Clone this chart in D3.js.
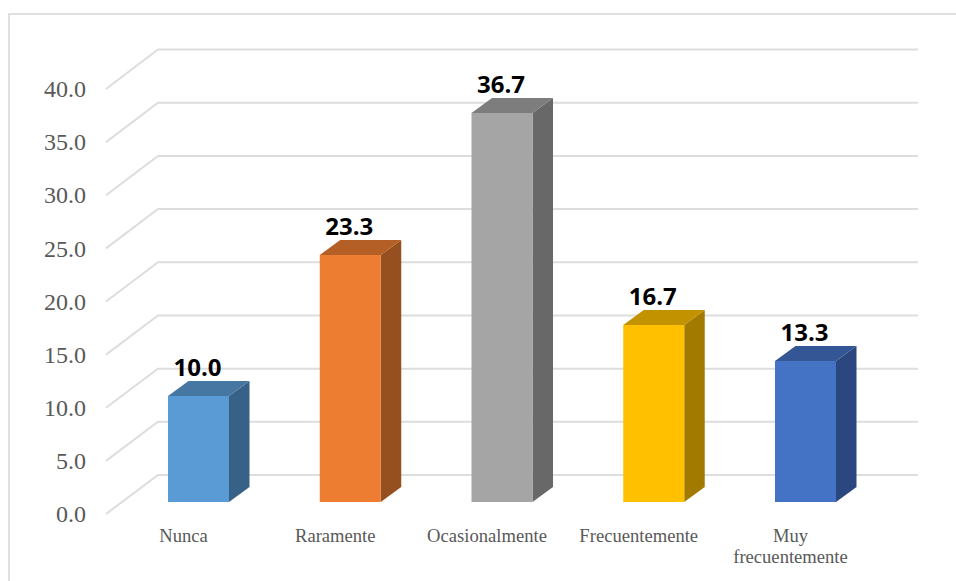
<!DOCTYPE html>
<html><head><meta charset="utf-8">
<style>html,body{margin:0;padding:0;background:#fff}svg{display:block}</style>
<script src="https://cdn.jsdelivr.net/npm/d3@7/dist/d3.min.js"></script></head>
<body><svg id="c" width="956" height="581"></svg>
<script>
const categories = ["Nunca","Raramente","Ocasionalmente","Frecuentemente","Muy frecuentemente"];
const values = [10.0,23.3,36.7,16.7,13.3];
const frontColors = ["#5B9BD5","#ED7D31","#A5A5A5","#FFC000","#4472C4"];
const topColors = ["#4676A2","#B45F25","#7D7D7D","#C29200","#345695"];
const sideColors = ["#376187","#964F1F","#686868","#A27A00","#2A4780"];
const yTicks = [0,5,10,15,20,25,30,35,40];

const svg = d3.select("#c");
svg.append("rect").attr("x",9).attr("y",14).attr("width",960).attr("height",600)
  .attr("fill","#fff").attr("stroke","#dcdcdc").attr("stroke-width",1.8);

const yFront = d3.scaleLinear().domain([0,40]).range([514,89]);
const yBack = d3.scaleLinear().domain([0,40]).range([475,49.5]);
const yBar = d3.scaleLinear().domain([0,40]).range([502,78]);
const xBand = d3.scaleBand().domain(categories).range([168,836]).paddingInner(0.598).paddingOuter(0);
const depthX = 20.5, depthY = 15;

// gridlines
const grid = svg.append("g").attr("fill","none").attr("stroke","#dddddd").attr("stroke-width",2);
grid.selectAll("path").data(yTicks).join("path")
  .attr("d",t=>d3.line()([[106,yFront(t)],[158,yBack(t)],[918,yBack(t)]]));

// y tick labels
const axis = svg.append("g").attr("transform","translate(92,0)")
  .call(d3.axisLeft(yFront).tickValues(yTicks).tickFormat(d3.format(".1f")).tickSize(0).tickPadding(6));
axis.select(".domain").remove();
axis.selectAll("text").attr("font-family","'Liberation Serif'").attr("font-size",24).attr("fill","#595959");

// bars
const bars = svg.append("g").selectAll("g").data(categories).join("g");
const bw = xBand.bandwidth();
bars.append("path").attr("fill",(d,i)=>sideColors[i]).attr("d",(d,i)=>{
  const x=xBand(d)+bw,y0=yBar(0),y1=yBar(values[i]);
  return d3.line()([[x,y0],[x+depthX,y0-depthY],[x+depthX,y1-depthY],[x,y1]])+"Z";});
bars.append("path").attr("fill",(d,i)=>topColors[i]).attr("d",(d,i)=>{
  const x=xBand(d),y1=yBar(values[i]);
  return d3.line()([[x,y1],[x+depthX,y1-depthY],[x+bw+depthX,y1-depthY],[x+bw,y1]])+"Z";});
bars.append("rect").attr("fill",(d,i)=>frontColors[i])
  .attr("x",d=>xBand(d)).attr("width",bw)
  .attr("y",(d,i)=>yBar(values[i])).attr("height",(d,i)=>yBar(0)-yBar(values[i]));

// data labels
bars.append("text").attr("x",d=>xBand(d)+bw/2-1).attr("y",(d,i)=>yBar(values[i])-20)
  .attr("text-anchor","middle").attr("font-family","'Open Sans'").attr("font-weight",700)
  .attr("font-size",24).attr("fill","#000").text((d,i)=>values[i].toFixed(1));

// category labels
const cat = bars.append("text").attr("font-family","'Liberation Serif'").attr("font-size",18.6)
  .attr("fill","#595959").attr("text-anchor","middle");
cat.each(function(d){
  const lines = d==="Muy frecuentemente" ? ["Muy","frecuentemente"] : [d];
  d3.select(this).selectAll("tspan").data(lines).join("tspan")
    .attr("x",xBand(d)+bw/2-15)
    .attr("y",(l,i)=>542+i*21).text(l=>l);
});
</script></body></html>
